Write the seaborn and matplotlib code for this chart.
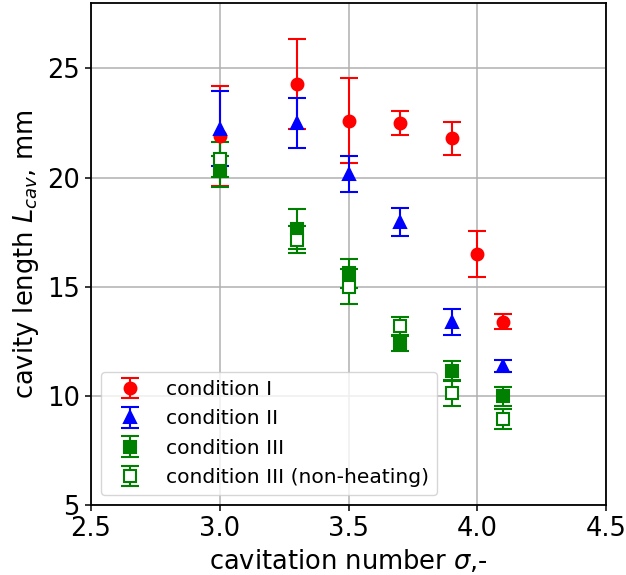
import matplotlib
matplotlib.use("Agg")
import matplotlib.pyplot as plt
import seaborn as sns
import pandas as pd

# Data
sigma_I = [3.0, 3.3, 3.5, 3.7, 3.9, 4.0, 4.1]
len_I = [21.9, 24.3, 22.6, 22.5, 21.8, 16.5, 13.4]
err_I = [2.3, 2.05, 1.95, 0.57, 0.75, 1.05, 0.35]

sigma_II = [3.0, 3.3, 3.5, 3.7, 3.9, 4.1]
len_II = [22.25, 22.5, 20.15, 17.95, 13.37, 11.37]
err_II = [1.72, 1.13, 0.83, 0.64, 0.6, 0.28]

sigma_III = [3.0, 3.3, 3.5, 3.7, 3.9, 4.1]
len_III = [20.28, 17.64, 15.61, 12.4, 11.14, 9.98]
err_III = [0.7, 0.93, 0.68, 0.35, 0.48, 0.44]

sigma_IIIn = [3.0, 3.3, 3.5, 3.7, 3.9, 4.1]
len_IIIn = [20.83, 17.16, 15.0, 13.21, 10.13, 8.93]
err_IIIn = [0.8, 0.61, 0.8, 0.4, 0.61, 0.47]

labels = ["condition I", "condition II", "condition III", "condition III (non-heating)"]

sns.set_theme(style="ticks")
plt.rcParams["font.family"] = ["DejaVu Sans"]
plt.rcParams["mathtext.fontset"] = "dejavusans"
plt.rcParams["text.color"] = "black"
plt.rcParams["axes.labelcolor"] = "black"
plt.rcParams["xtick.color"] = "black"
plt.rcParams["ytick.color"] = "black"

fig = plt.figure(figsize=(6.26, 5.75), dpi=100)
ax = fig.add_axes([91 / 626, 1 - 505 / 575, (606 - 91) / 626, (505 - 3) / 575])

series = [
    (sigma_I, len_I, err_I, "o", "red", "red"),
    (sigma_II, len_II, err_II, "^", "blue", "blue"),
    (sigma_III, len_III, err_III, "s", "green", "green"),
    (sigma_IIIn, len_IIIn, err_IIIn, "s", "green", "white"),
]
for (x, y, e, m, c, mfc), lab in zip(series, labels):
    df = pd.DataFrame({"x": x, "y": y, "e": e})
    ax.errorbar(df["x"], df["y"], yerr=df["e"], fmt=m, color=c, mfc=mfc, mec=c,
                ms=8.5, mew=1.5, elinewidth=1.5, capsize=6.6, capthick=1.5,
                label=lab, linestyle="none")

ax.set_xlim(2.5, 4.5)
ax.set_ylim(5, 28)
ax.set_xticks([2.5, 3.0, 3.5, 4.0, 4.5])
ax.set_xticklabels(["2.5", "3.0", "3.5", "4.0", "4.5"])
ax.set_yticks([5, 10, 15, 20, 25])
ax.grid(True, color="#b0b0b0", linewidth=1.1)
ax.set_axisbelow(True)
for s in ax.spines.values():
    s.set_visible(True)
    s.set_color("black")
    s.set_linewidth(1.3)
ax.tick_params(axis="both", labelsize=18.5, length=4.5, width=1.1, color="black",
               labelcolor="black", direction="out")
ax.set_xlabel(r"cavitation number $\sigma$,-", fontsize=18.5, color="black")
ax.set_ylabel(r"cavity length $L_{cav}$, mm", fontsize=18.5, color="black")

leg = ax.legend(loc="lower left", fontsize=14.6, frameon=True, fancybox=True,
                framealpha=0.8, edgecolor="#cccccc", handlelength=2.0,
                labelcolor="black")

fig.savefig("out.png", dpi=100)
